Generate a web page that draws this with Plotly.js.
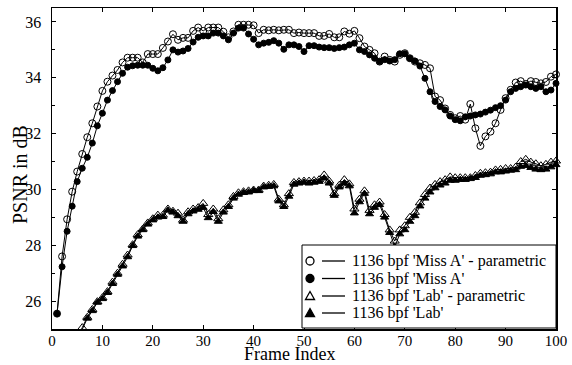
<!DOCTYPE html>
<html>
<head>
<meta charset="utf-8">
<script src="https://cdn.plot.ly/plotly-3.0.1.min.js"></script>
<style>html,body{margin:0;padding:0;background:#fff;}#chart{width:572px;height:365px;}</style>
</head>
<body>
<div id="chart"></div>
<script>
// Frame indices 1..100
const frames = [];
for (let i = 1; i <= 100; i++) frames.push(i);

const missAParam = [
25.55,27.6,28.93,29.92,30.64,31.27,31.87,32.37,32.97,33.53,
33.86,34.08,34.28,34.55,34.72,34.72,34.72,34.55,34.85,34.85,
34.85,35.07,35.3,35.56,35.36,35.43,35.43,35.68,35.8,35.68,
35.8,35.8,35.8,35.65,35.45,35.66,35.9,35.9,35.9,35.88,
35.6,35.72,35.7,35.72,35.7,35.72,35.72,35.6,35.62,35.6,
35.6,35.6,35.5,35.5,35.57,35.45,35.45,35.66,35.58,35.68,
35.42,35.12,35.0,34.88,34.58,34.76,34.64,34.58,34.82,34.88,
34.7,34.58,34.52,34.46,34.34,33.33,33.2,32.9,32.67,32.55,
32.63,32.5,33.06,32.19,31.56,31.9,32.07,32.37,32.85,33.27,
33.57,33.83,33.88,33.78,33.88,33.85,33.8,33.85,34.04,34.12
];

const missA = [
25.55,27.23,28.5,29.4,30.28,30.76,31.15,31.66,32.28,32.73,
33.2,33.54,33.86,34.16,34.38,34.43,34.45,34.45,34.45,34.34,
34.25,34.36,34.64,35.0,34.92,34.96,35.05,35.28,35.45,35.5,
35.5,35.6,35.6,35.5,35.36,35.6,35.78,35.78,35.57,35.38,
35.18,35.24,35.27,35.33,35.24,35.02,35.18,35.18,35.12,34.94,
35.15,35.15,35.1,35.08,35.08,35.05,35.08,35.1,35.18,35.24,
35.0,34.94,34.82,34.7,34.58,34.65,34.6,34.65,34.86,34.86,
34.7,34.6,34.42,33.98,33.5,33.15,32.97,32.85,32.63,32.5,
32.46,32.6,32.63,32.67,32.7,32.77,32.84,32.93,33.0,33.2,
33.5,33.62,33.68,33.74,33.68,33.62,33.68,33.5,33.56,33.8
];

const labParam = [
23.3,23.7,24.0,24.3,24.65,25.05,25.42,25.7,25.98,26.12,
26.34,26.68,27.0,27.32,27.65,28.02,28.38,28.58,28.8,28.95,
29.08,29.08,29.3,29.22,29.15,28.9,29.2,29.3,29.35,29.5,
29.1,29.3,28.95,29.27,29.45,29.75,29.88,29.92,29.95,29.98,
29.98,30.12,30.15,30.18,29.65,29.45,29.85,30.25,30.28,30.3,
30.3,30.32,30.35,30.52,30.3,29.85,30.15,30.35,30.2,29.3,
29.65,29.95,29.25,29.45,29.55,29.1,28.55,28.15,28.55,28.7,
29.0,29.18,29.52,29.82,30.05,30.18,30.28,30.35,30.45,30.42,
30.42,30.42,30.42,30.5,30.58,30.6,30.62,30.7,30.72,30.75,
30.75,30.8,31.0,31.08,30.98,30.92,30.85,30.9,30.98,31.02
];

const lab = [
23.2,23.6,23.9,24.2,24.6,24.98,25.38,25.65,25.95,26.08,
26.3,26.62,26.95,27.25,27.58,27.98,28.32,28.55,28.75,28.9,
29.0,29.02,29.25,29.18,29.05,28.85,29.12,29.22,29.28,29.35,
28.98,29.2,28.85,29.18,29.38,29.68,29.82,29.88,29.9,29.95,
29.95,30.08,30.1,30.12,29.58,29.38,29.75,30.18,30.22,30.25,
30.22,30.25,30.28,30.4,30.22,29.78,30.08,30.22,30.12,29.15,
29.55,29.85,29.12,29.35,29.45,29.0,28.45,27.95,28.4,28.55,
28.85,29.05,29.4,29.68,29.9,30.05,30.15,30.22,30.32,30.32,
30.35,30.35,30.38,30.42,30.5,30.52,30.55,30.62,30.62,30.65,
30.68,30.7,30.82,30.85,30.78,30.72,30.7,30.72,30.8,30.88
];

const seriesNames = [
"1136 bpf 'Miss A' - parametric",
"1136 bpf 'Miss A'",
"1136 bpf 'Lab' - parametric",
"1136 bpf 'Lab'"
];

const xTickVals = [0,10,20,30,40,50,60,70,80,90,100];
const yTickVals = [26,28,30,32,34,36];

const serif = "'Liberation Serif', 'Times New Roman', serif";

// plot-area geometry (pixels) used only to place the hand-drawn legend box and titles
const W = 572, H = 365, ML = 52, MR = 16, MT = 8, MB = 36;
const PW = W - ML - MR, PH = H - MT - MB;
const px = v => (v - ML) / PW;
const py = v => (H - MB - v) / PH;

function mk(y, name, symbol, size, fill) {
  return {
    x: frames, y: y, name: name, type: 'scatter', mode: 'lines+markers',
    cliponaxis: false, showlegend: false,
    line: {color: '#000', width: 1},
    marker: {symbol: symbol, size: size, color: fill, line: {color: '#000', width: 1}}
  };
}

const traces = [
  mk(missAParam, seriesNames[0], 'circle-open', 7, '#000'),
  mk(missA, seriesNames[1], 'circle', 6, '#000'),
  mk(labParam, seriesNames[2], 'triangle-up-open', 8, '#000'),
  mk(lab, seriesNames[3], 'triangle-up', 7, '#000')
];

// Legend (drawn manually to match the original layout)
const legBox = {x0: 302, x1: 556, y0: 245, y1: 328};
const rowY = [261, 278.5, 296, 313];
const symX = 310, lineX0 = 322, lineX1 = 345, textX = 350;

const shapes = [{
  type: 'rect', xref: 'paper', yref: 'paper', layer: 'above',
  x0: px(legBox.x0), x1: px(legBox.x1), y0: py(legBox.y1), y1: py(legBox.y0),
  fillcolor: '#fff', line: {color: '#000', width: 1}
}];
const annotations = [];
rowY.forEach((yy, i) => {
  shapes.push({type: 'line', xref: 'paper', yref: 'paper', layer: 'above',
    x0: px(lineX0), x1: px(lineX1), y0: py(yy), y1: py(yy), line: {color: '#000', width: 1.3}});
  if (i < 2) {
    shapes.push({type: 'circle', xref: 'paper', yref: 'paper', layer: 'above',
      x0: px(symX - 4), x1: px(symX + 4), y0: py(yy + 4), y1: py(yy - 4),
      fillcolor: i === 0 ? '#fff' : '#000', line: {color: '#000', width: 1.3}});
  } else {
    const p = 'M ' + px(symX - 4.5) + ',' + py(yy + 3.5) + ' L ' + px(symX + 4.5) + ',' + py(yy + 3.5) +
              ' L ' + px(symX) + ',' + py(yy - 4.5) + ' Z';
    shapes.push({type: 'path', xref: 'paper', yref: 'paper', layer: 'above', path: p,
      fillcolor: i === 2 ? '#fff' : '#000', line: {color: '#000', width: 1.3}});
  }
  annotations.push({xref: 'paper', yref: 'paper', x: px(textX), y: py(yy),
    xanchor: 'left', yanchor: 'middle', showarrow: false, text: seriesNames[i],
    font: {family: serif, size: 16, color: '#000'}});
});

// axis titles
annotations.push({xref: 'paper', yref: 'paper', x: px(289), y: py(354), xanchor: 'center', yanchor: 'middle',
  showarrow: false, borderpad: 0, text: 'Frame Index', font: {family: serif, size: 18, color: '#000'}});
annotations.push({xref: 'paper', yref: 'paper', x: px(20), y: py(175), xanchor: 'center', yanchor: 'middle',
  showarrow: false, borderpad: 0, textangle: -90, text: 'PSNR in dB', font: {family: serif, size: 20, color: '#000'}});

const layout = {
  width: W, height: H,
  margin: {l: ML, r: MR, t: MT, b: MB},
  paper_bgcolor: '#fff', plot_bgcolor: '#fff',
  font: {family: serif, color: '#000', size: 16},
  showlegend: false,
  shapes: shapes,
  annotations: annotations,
  xaxis: {
    range: [0, 100], tickvals: xTickVals, ticktext: xTickVals.map(String),
    ticks: 'inside', ticklen: 4, tickwidth: 1, tickcolor: '#000',
    showline: true, linecolor: '#000', linewidth: 1.5, mirror: 'ticks',
    showgrid: false, zeroline: false, automargin: false, ticklabelstandoff: -3,
    tickfont: {family: serif, size: 15, color: '#000'}
  },
  yaxis: {
    range: [25, 36.5], tickvals: yTickVals, ticktext: yTickVals.map(String),
    ticks: 'inside', ticklen: 4, tickwidth: 1, tickcolor: '#000',
    minor: {dtick: 1, ticks: 'inside', ticklen: 3, tickcolor: '#000'},
    showline: true, linecolor: '#000', linewidth: 1.5, mirror: 'ticks',
    showgrid: false, zeroline: false, ticklabelstandoff: 6, automargin: false,
    tickfont: {family: serif, size: 16, color: '#000'}
  }
};

Plotly.newPlot('chart', traces, layout, {displayModeBar: false, staticPlot: true});
</script>
</body>
</html>
